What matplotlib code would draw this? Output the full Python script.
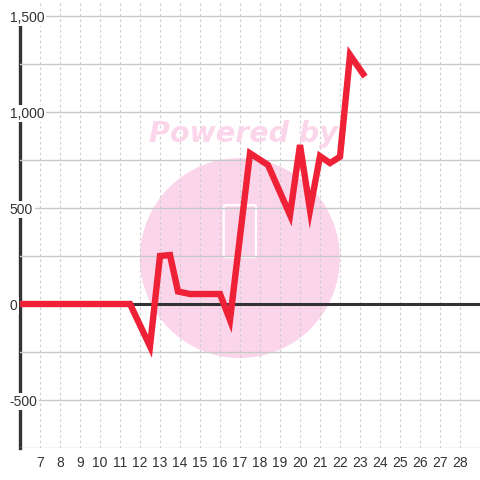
import matplotlib
matplotlib.use("Agg")
import matplotlib.pyplot as plt
from matplotlib.patches import Ellipse, FancyBboxPatch

# ---- data ----
x_vals = [6, 7, 8, 9, 10, 11, 11.5, 12.5, 13, 13.5, 13.9, 14.5, 16, 16.5,
          17.5, 18.4, 19.5, 20, 20.5, 21, 21.5, 22, 22.5, 23.25]
y_vals = [0, 0, 0, 0, 0, 0, 0, -220, 250, 255, 65, 52, 52, -83,
          785, 724, 464, 828, 490, 770, 734, 767, 1297, 1184]
x_ticks = list(range(7, 29))
y_ticks = [-500, 0, 500, 1000, 1500]
y_tick_labels = ["-500", "0", "500", "1,000", "1,500"]
y_minor = [-750, -250, 250, 750, 1250]

plt.rcParams['font.family'] = ['Liberation Sans', 'DejaVu Sans']

fig = plt.figure(figsize=(4.8, 4.8), dpi=100)
fig.patch.set_facecolor('white')
ax = fig.add_axes([20/480, 32/480, 460/480, 448/480])
ax.set_facecolor('white')
ax.set_xlim(6, 29)
ax.set_ylim(-750, 1500 + 16/96*500)

# watermark
circ = Ellipse((0.478, 0.424), 200/460, 200/448, transform=ax.transAxes,
               facecolor='#fbd6eb', edgecolor='none', zorder=0.1)
ax.add_patch(circ)
box = FancyBboxPatch((0.447, 0.43), 0.062, 0.108, boxstyle='round,pad=0.004',
                     transform=ax.transAxes, facecolor='none',
                     edgecolor='white', linewidth=1.5, zorder=0.2)
ax.add_patch(box)
fig.text(243/480, 1 - 134/480, "Powered by", ha='center', va='center',
         fontsize=20.5, fontweight='bold', style='italic', color='#fbd6eb',
         family='DejaVu Sans', zorder=0.3)

# grid
ax.set_axisbelow(True)
ax.set_xticks(x_ticks)
ax.set_yticks(y_ticks)
ax.set_yticklabels(y_tick_labels)
ax.set_yticks(y_minor, minor=True)
ax.grid(axis='y', which='both', color='#c8c8c8', linewidth=1.0)
ax.grid(axis='x', which='major', color='#cccccc', linewidth=0.8,
        linestyle=(0, (2.2, 2.6)))
ax.xaxis.set_zorder(1)
ax.yaxis.set_zorder(1)

# zero line
ax.axhline(0, color='#333333', linewidth=2.2, zorder=2)

# data line
ax.plot(x_vals, y_vals, color='#ee2136', linewidth=4.6,
        solid_joinstyle='miter', solid_capstyle='butt', zorder=3)

# spines
for s in ['top', 'right', 'bottom']:
    ax.spines[s].set_visible(False)
ax.spines['left'].set_color('#333333')
ax.spines['left'].set_linewidth(2.4)
ax.spines['left'].set_bounds(-750, 1458)
ax.spines['left'].set_zorder(0.9)

ax.tick_params(axis='x', which='both', length=0, pad=6, labelsize=10,
               labelcolor='#333333')
ax.tick_params(axis='y', which='both', length=0, pad=7.5, labelsize=10,
               labelcolor='#333333')
for lab in ax.get_yticklabels():
    lab.set_horizontalalignment('left')
    lab.set_bbox(dict(facecolor='white', edgecolor='none', pad=1.2))

fig.savefig('out.png', dpi=100, facecolor='white')
